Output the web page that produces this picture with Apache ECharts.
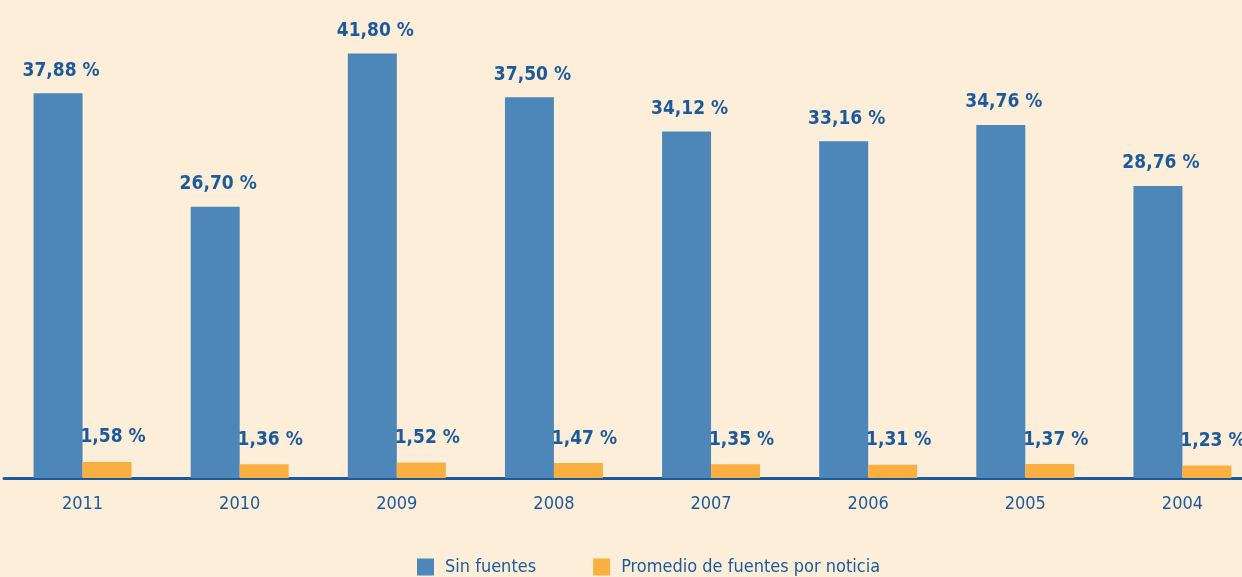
<!DOCTYPE html>
<html>
<head>
<meta charset="utf-8">
<script src="https://cdn.jsdelivr.net/npm/echarts@6/dist/echarts.min.js"></script>
<style>
  html, body { margin: 0; padding: 0; background: #fdeeda; }
  #chart { width: 1242px; height: 577px; }
</style>
</head>
<body>
<div id="chart"></div>
<script>
// años (categorías)
var years = ['2011', '2010', '2009', '2008', '2007', '2006', '2005', '2004'];
// % noticias sin fuentes
var sinFuentes = [37.88, 26.70, 41.80, 37.50, 34.12, 33.16, 34.76, 28.76];
// promedio de fuentes por noticia
var promedio = [1.58, 1.36, 1.52, 1.47, 1.35, 1.31, 1.37, 1.23];

var txtBlue = '#1d5a9c';
var fontFam = "'DejaVu Sans Condensed', 'Liberation Sans Narrow', sans-serif";

function fmt(v) {
  return v.toFixed(2).replace('.', ',') + ' %';
}

var chart = echarts.init(document.getElementById('chart'));
chart.setOption({
  backgroundColor: '#fdeeda',
  animation: false,
  grid: { left: 4, width: 1257, top: 21, bottom: 99, outerBoundsMode: 'none', containLabel: false },
  legend: {
    bottom: -4,
    left: 412,
    itemWidth: 17,
    itemHeight: 17,
    itemGap: 57,
    icon: 'rect',
    textStyle: { color: txtBlue, fontSize: 18, fontFamily: fontFam, padding: [0, 0, 0, 6] },
    data: ['Sin fuentes', 'Promedio de fuentes por noticia']
  },
  xAxis: {
    type: 'category',
    data: years,
    axisLine: { lineStyle: { color: '#1d5a9c', width: 3 } },
    axisTick: { show: false },
    axisLabel: { color: txtBlue, fontSize: 18, fontFamily: fontFam, margin: 17 }
  },
  yAxis: {
    type: 'value',
    min: 0,
    max: 45,
    show: false
  },
  series: [
    {
      name: 'Sin fuentes',
      type: 'bar',
      data: sinFuentes,
      barWidth: 49,
      barGap: '0%',
      itemStyle: { color: '#4d87b9' },
      label: {
        show: true,
        position: 'top',
        distance: 13,
        offset: [3, 0],
        color: txtBlue,
        fontSize: 19,
        fontWeight: 'bold',
        fontFamily: fontFam,
        formatter: function (p) { return fmt(p.value); }
      }
    },
    {
      name: 'Promedio de fuentes por noticia',
      type: 'bar',
      data: promedio,
      barWidth: 49,
      itemStyle: { color: '#fbaf41' },
      label: {
        show: true,
        position: 'top',
        distance: 15,
        offset: [6, 0],
        color: txtBlue,
        fontSize: 19,
        fontWeight: 'bold',
        fontFamily: fontFam,
        formatter: function (p) { return fmt(p.value); }
      }
    }
  ]
});
</script>
</body>
</html>
